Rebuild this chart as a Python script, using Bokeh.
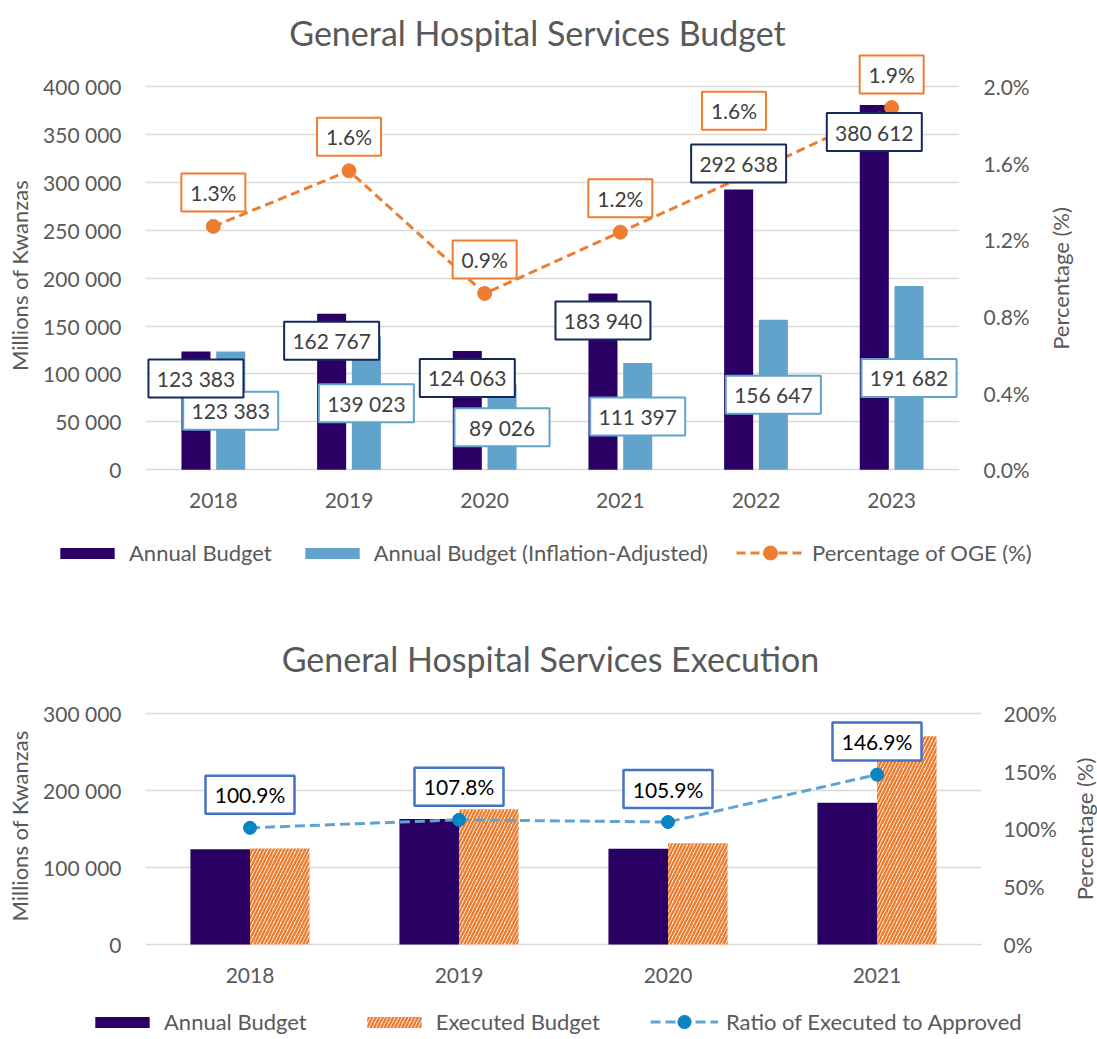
import math
from bokeh.plotting import figure
from bokeh.models import (ColumnDataSource, FactorRange, Range1d, LinearAxis, FixedTicker,
                          CustomJSTickFormatter, LabelSet, Label, Legend, LegendItem)
from bokeh.transform import dodge
from bokeh.core.properties import value
from bokeh.layouts import column, row
from bokeh.embed import file_html
from bokeh.resources import INLINE

# ---------------- data ----------------
years_budget = ["2018", "2019", "2020", "2021", "2022", "2023"]
annual_budget = [123383, 162767, 124063, 183940, 292638, 380612]
annual_budget_infl = [123383, 139023, 89026, 111397, 156647, 191682]
oge_pct = [1.27, 1.56, 0.92, 1.24, 1.56, 1.89]

years_exec = ["2018", "2019", "2020", "2021"]
exec_annual_budget = [123383, 162767, 124063, 183940]
executed_budget = [124494, 175463, 131383, 270208]
exec_ratio = [100.9, 107.8, 105.9, 146.9]

left_ticks_1 = [0, 50000, 100000, 150000, 200000, 250000, 300000, 350000, 400000]
right_ticks_1 = [0.0, 0.4, 0.8, 1.2, 1.6, 2.0]
left_ticks_2 = [0, 100000, 200000, 300000]
right_ticks_2 = [0, 50, 100, 150, 200]

title_1 = "General Hospital Services Budget"
title_2 = "General Hospital Services Execution"
y_title_left = "Millions of Kwanzas"
y_title_right = "Percentage (%)"

# ---------------- style / layout (pixels) ----------------
FONT = "Lato"
GRAY = "#595959"
DARK = "#2a0064"
LIGHT = "#62a3cb"
ORANGE = "#ed7d31"
LINE_BLUE = "#5fa3d3"
MARK_BLUE = "#0a84c2"
NAVY = "#14285e"
RATIO_BORDER = "#4472c4"

W = 1097
FRAME_LEFT = 145
F1_RIGHT, F2_RIGHT = 959, 981
STRIP1_X, STRIP2_X = 1045, 1070          # where the right-hand title strips start
# chart 1 (canvas px)
H1 = 540
Y1_ZERO, Y1_TOP_TICK = 469.3, 86.0
F1_TOP = 10
HL1 = 60                                  # legend strip 1
# chart 2 (canvas px, starts at page y = 600)
H2 = 408
Y2_ZERO, Y2_TOP_TICK = 344.0, 112.7
F2_TOP = 43
HL2 = 31                                  # legend strip 2

budget_label_off = [-27, -27, -27, -27, 26, -27]   # px from bar top
pct_label_xoff = [0, 0, 0, 0, -22, 0]              # px
pct_label_yoff = [34, 34, 34, 34, 60, 33]          # px above point
ratio_label_yoff = 33

upp1 = left_ticks_1[-1] / (Y1_ZERO - Y1_TOP_TICK)          # data units per px
pct_per_px = right_ticks_1[-1] / (Y1_ZERO - Y1_TOP_TICK)
cat_px1 = (F1_RIGHT - FRAME_LEFT) / len(years_budget)
upp2 = left_ticks_2[-1] / (Y2_ZERO - Y2_TOP_TICK)
ratio_per_px = right_ticks_2[-1] / (Y2_ZERO - Y2_TOP_TICK)
cat_px2 = (F2_RIGHT - FRAME_LEFT) / len(years_exec)

space_fmt = CustomJSTickFormatter(code=r"return tick.toFixed(0).replace(/\B(?=(\d{3})+(?!\d))/g, ' ');")


def fmt_space(v):
    return f"{v:,}".replace(",", " ")


def no_align(p):
    try:
        p.frame_align = False
    except Exception:
        pass
    return p


def style_axis(ax, standoff, label_standoff=10):
    ax.major_tick_line_color = None
    ax.minor_tick_line_color = None
    ax.major_tick_in = 0
    ax.major_tick_out = 0
    ax.minor_tick_in = 0
    ax.minor_tick_out = 0
    ax.axis_line_color = None
    ax.major_label_text_font = FONT
    ax.major_label_text_font_size = "21px"
    ax.major_label_text_color = GRAY
    ax.axis_label_text_font = FONT
    ax.axis_label_text_font_size = "22px"
    ax.axis_label_text_color = GRAY
    ax.axis_label_text_font_style = "normal"
    ax.major_label_standoff = standoff
    ax.axis_label_standoff = label_standoff


def boxed_labels(p, src, x, y, text, w, border, lw, text_color, y_range_name="default"):
    p.rect(x=x, y=y, width=w, height=38, width_units="screen", height_units="screen",
           source=src, fill_color="white", line_color=border, line_width=lw,
           y_range_name=y_range_name)
    p.add_layout(LabelSet(x=x, y=y, text=text, source=src, y_range_name=y_range_name,
                          text_align="center", text_baseline="middle", text_font=value(FONT),
                          text_font_size="21px", text_color=text_color))


def blank_fig(width, height):
    f = figure(width=width, height=height, x_range=Range1d(0, width), y_range=Range1d(0, height),
               min_border=0, x_axis_location=None, y_axis_location=None,
               output_backend="svg", toolbar_location=None)
    f.outline_line_color = None
    f.grid.visible = False
    return no_align(f)


def title_strip(width, height, text, cx, cy):
    f = blank_fig(width, height)
    f.add_layout(Label(x=cx, y=height - cy, text=text, angle=math.pi / 2,
                       text_align="center", text_baseline="middle", text_font=FONT,
                       text_font_size="22px", text_color=GRAY))
    return f


def legend_strip(height, groups):
    """groups: list of (x0, y0, spacing, glyph_height, entries)"""
    lp = blank_fig(W, height)
    off = ColumnDataSource(dict(x=[-500], y=[-500]))   # swatch renderers, off-canvas
    for x0, y0, spacing, gh, entries in groups:
        items = []
        for label, kind, st in entries:
            rs = []
            if kind == "bar":
                rs.append(lp.vbar(x="x", top="y", width=1, source=off, line_color=None, **st))
            else:
                rs.append(lp.line(x="x", y="y", source=off, line_color=st["line"],
                                  line_width=3, line_dash=st["dash"]))
                rs.append(lp.scatter(x="x", y="y", source=off, size=st["size"],
                                     fill_color=st["mark"], line_color=st["mark"]))
            items.append(LegendItem(label=label, renderers=rs))
        lg = Legend(items=items, orientation="horizontal", location=(x0, y0), glyph_width=68,
                    glyph_height=gh, label_standoff=8, spacing=spacing, padding=0, margin=0,
                    border_line_color=None, background_fill_alpha=0, label_text_font=FONT,
                    label_text_font_size="22px", label_text_color=GRAY)
        lp.add_layout(lg, "center")
    return lp


# ---------------- chart 1 ----------------
src1 = ColumnDataSource(dict(
    year=years_budget,
    budget=annual_budget,
    infl=annual_budget_infl,
    pct=oge_pct,
    budget_lbl=[fmt_space(v) for v in annual_budget],
    infl_lbl=[fmt_space(v) for v in annual_budget_infl],
    pct_lbl=[f"{v:.1f}%" for v in oge_pct],
    budget_box_y=[v + o * upp1 for v, o in zip(annual_budget, budget_label_off)],
    infl_box_y=[v / 2 for v in annual_budget_infl],
    pct_box_x=[i + 0.5 + xo / cat_px1 for i, xo in enumerate(pct_label_xoff)],
    pct_box_y=[v + o * pct_per_px for v, o in zip(oge_pct, pct_label_yoff)],
))

y1_start = -(H1 - Y1_ZERO) * upp1
y1_end = (Y1_ZERO - F1_TOP) * upp1
pct_scale = right_ticks_1[-1] / left_ticks_1[-1]

p1 = figure(x_range=FactorRange(factors=years_budget), y_range=Range1d(y1_start, y1_end),
            width=STRIP1_X, height=H1,
            min_border_left=FRAME_LEFT, min_border_right=STRIP1_X - F1_RIGHT,
            min_border_top=F1_TOP, min_border_bottom=0,
            output_backend="svg", toolbar_location=None)
no_align(p1)
p1.outline_line_color = None
p1.extra_y_ranges = {"pct": Range1d(y1_start * pct_scale, y1_end * pct_scale)}

p1.yaxis[0].ticker = FixedTicker(ticks=left_ticks_1)
p1.yaxis[0].formatter = space_fmt
p1.yaxis[0].axis_label = y_title_left
style_axis(p1.yaxis[0], 24, 7)
style_axis(p1.xaxis[0], 23)
p1.xaxis[0].fixed_location = 0

ax_r1 = LinearAxis(y_range_name="pct", ticker=FixedTicker(ticks=right_ticks_1),
                   formatter=CustomJSTickFormatter(code="return tick.toFixed(1) + '%';"))
style_axis(ax_r1, 24)
p1.add_layout(ax_r1, "right")

p1.xgrid.visible = False
p1.ygrid.ticker = FixedTicker(ticks=left_ticks_1)
p1.ygrid.grid_line_color = "#d9d9d9"
p1.ygrid.grid_line_width = 1.5

p1.vbar(x=dodge("year", -0.128, range=p1.x_range), top="budget", width=0.214,
        source=src1, fill_color=DARK, line_color=None)
p1.vbar(x=dodge("year", 0.128, range=p1.x_range), top="infl", width=0.214,
        source=src1, fill_color=LIGHT, line_color=None)
p1.line(x="year", y="pct", y_range_name="pct", source=src1, line_color=ORANGE,
        line_width=3, line_dash="9 5")
p1.scatter(x="year", y="pct", y_range_name="pct", source=src1, size=14,
           fill_color=ORANGE, line_color=ORANGE)

boxed_labels(p1, src1, dodge("year", 0.128, range=p1.x_range), "infl_box_y", "infl_lbl",
             95, LIGHT, 2, "#404040")
boxed_labels(p1, src1, dodge("year", -0.128, range=p1.x_range), "budget_box_y", "budget_lbl",
             95, NAVY, 2, "#404040")
boxed_labels(p1, src1, "pct_box_x", "pct_box_y", "pct_lbl", 64, ORANGE, 2, "#404040",
             y_range_name="pct")

p1.add_layout(Label(x=(537 - FRAME_LEFT) / cat_px1, y=(Y1_ZERO - 32) * upp1, text=title_1,
                    text_align="center", text_baseline="middle",
                    text_font=FONT, text_font_size="34px", text_color=GRAY))

s1 = title_strip(W - STRIP1_X, H1, y_title_right, 1060 - STRIP1_X, 278)

leg1 = legend_strip(HL1, [
    (53, 34, 26, 14, [
        ("Annual Budget", "bar", dict(fill_color=DARK)),
        ("Annual Budget (Inflation-Adjusted)", "bar", dict(fill_color=LIGHT)),
    ]),
    (736, 30, 26, 35, [
        ("Percentage of OGE (%)", "line", dict(line=ORANGE, dash="9 5", size=14, mark=ORANGE)),
    ]),
])

# ---------------- chart 2 ----------------
src2 = ColumnDataSource(dict(
    year=years_exec,
    budget=exec_annual_budget,
    executed=executed_budget,
    ratio=exec_ratio,
    ratio_lbl=[f"{v:.1f}%" for v in exec_ratio],
    ratio_box_y=[v + ratio_label_yoff * ratio_per_px for v in exec_ratio],
))

y2_start = -(H2 - Y2_ZERO) * upp2
y2_end = (Y2_ZERO - F2_TOP) * upp2
ratio_scale = right_ticks_2[-1] / left_ticks_2[-1]

p2 = figure(x_range=FactorRange(factors=years_exec), y_range=Range1d(y2_start, y2_end),
            width=STRIP2_X, height=H2,
            min_border_left=FRAME_LEFT, min_border_right=STRIP2_X - F2_RIGHT,
            min_border_top=F2_TOP, min_border_bottom=0,
            output_backend="svg", toolbar_location=None)
no_align(p2)
p2.outline_line_color = None
p2.extra_y_ranges = {"ratio": Range1d(y2_start * ratio_scale, y2_end * ratio_scale)}

p2.yaxis[0].ticker = FixedTicker(ticks=left_ticks_2)
p2.yaxis[0].formatter = space_fmt
p2.yaxis[0].axis_label = y_title_left
style_axis(p2.yaxis[0], 24, 7)
style_axis(p2.xaxis[0], 23)
p2.xaxis[0].fixed_location = 0

ax_r2 = LinearAxis(y_range_name="ratio", ticker=FixedTicker(ticks=right_ticks_2),
                   formatter=CustomJSTickFormatter(code="return tick.toFixed(0) + '%';"))
style_axis(ax_r2, 22)
p2.add_layout(ax_r2, "right")

p2.xgrid.visible = False
p2.ygrid.ticker = FixedTicker(ticks=left_ticks_2)
p2.ygrid.grid_line_color = "#d9d9d9"
p2.ygrid.grid_line_width = 1.5

HATCH = dict(fill_color="white", hatch_pattern="right_diagonal_line", hatch_color=ORANGE,
             hatch_weight=2.5, hatch_scale=7)
p2.vbar(x=dodge("year", -0.1425, range=p2.x_range), top="budget", width=0.285,
        source=src2, fill_color=DARK, line_color=None)
p2.vbar(x=dodge("year", 0.1425, range=p2.x_range), top="executed", width=0.285,
        source=src2, line_color=None, **HATCH)
p2.line(x="year", y="ratio", y_range_name="ratio", source=src2, line_color=LINE_BLUE,
        line_width=3, line_dash="10 5")
p2.scatter(x="year", y="ratio", y_range_name="ratio", source=src2, size=13,
           fill_color=MARK_BLUE, line_color=MARK_BLUE)

boxed_labels(p2, src2, "year", "ratio_box_y", "ratio_lbl", 89, RATIO_BORDER, 2.5, "black",
             y_range_name="ratio")

p2.add_layout(Label(x=(550 - FRAME_LEFT) / cat_px2, y=(Y2_ZERO - 58) * upp2, text=title_2,
                    text_align="center", text_baseline="middle",
                    text_font=FONT, text_font_size="34px", text_color=GRAY))

s2 = title_strip(W - STRIP2_X, H2, y_title_right, 1084 - STRIP2_X, 828.5 - 600)

leg2 = legend_strip(HL2, [
    (88, 4, 53, 14, [
        ("Annual Budget", "bar", dict(fill_color=DARK)),
        ("Executed Budget", "bar", HATCH),
    ]),
    (650, 1, 53, 33, [
        ("Ratio of Executed to Approved", "line", dict(line=LINE_BLUE, dash="10 5", size=13,
                                                        mark=MARK_BLUE)),
    ]),
])

layout = column(row(p1, s1, spacing=0), leg1, row(p2, s2, spacing=0), leg2, spacing=0)
open("out.html", "w").write(file_html(layout, INLINE))
